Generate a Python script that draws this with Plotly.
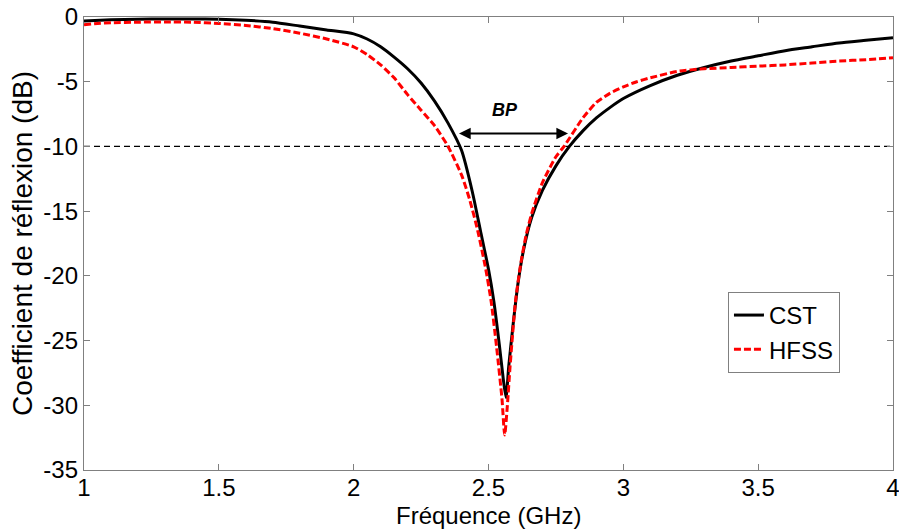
import plotly.graph_objects as go

cst_f = [1.0, 1.1, 1.2, 1.3, 1.4, 1.5, 1.6, 1.7, 1.8, 1.9, 2.0, 2.05, 2.1, 2.15, 2.2, 2.25, 2.3, 2.35,
         2.4, 2.44, 2.47, 2.5, 2.52, 2.54, 2.555, 2.565, 2.575, 2.59, 2.61, 2.63, 2.66, 2.7, 2.75,
         2.8, 2.85, 2.9, 2.95, 3.0, 3.1, 3.2, 3.3, 3.4, 3.5, 3.6, 3.7, 3.8, 3.9, 4.0]
cst_db = [-0.3, -0.22, -0.18, -0.15, -0.15, -0.17, -0.25, -0.4, -0.7, -1.0, -1.3, -1.7, -2.3, -3.1, -4.0,
          -5.1, -6.5, -8.2, -10.3, -13.5, -16.5, -19.5, -22.0, -25.3, -28.0, -29.4, -27.0, -24.0, -20.5,
          -18.0, -15.5, -13.4, -11.5, -10.0, -8.8, -7.8, -7.0, -6.3, -5.3, -4.5, -3.9, -3.4, -3.0, -2.6,
          -2.3, -2.0, -1.8, -1.6]

hfss_f = [1.0, 1.05, 1.1, 1.2, 1.3, 1.4, 1.5, 1.6, 1.7, 1.8, 1.9, 2.0, 2.05, 2.1, 2.15, 2.2, 2.25, 2.3,
          2.35, 2.4, 2.43, 2.46, 2.49, 2.51, 2.53, 2.55, 2.56, 2.57, 2.58, 2.6, 2.62, 2.64, 2.66, 2.7,
          2.75, 2.78, 2.85, 2.9, 2.95, 3.0, 3.05, 3.1, 3.2, 3.3, 3.4, 3.5, 3.6, 3.7, 3.8, 3.9, 4.0]
hfss_db = [-0.6, -0.5, -0.45, -0.4, -0.38, -0.4, -0.5, -0.65, -0.9, -1.25, -1.7, -2.3, -2.9, -3.7, -4.7,
           -6.0, -7.2, -8.4, -10.0, -12.2, -14.1, -16.5, -19.5, -22.0, -25.5, -29.5, -32.3, -30.0, -27.0,
           -22.0, -19.0, -16.8, -15.2, -12.8, -10.8, -10.0, -7.8, -6.6, -5.9, -5.4, -5.0, -4.7, -4.2, -4.0,
           -3.9, -3.8, -3.7, -3.55, -3.4, -3.3, -3.15]

x_ticks = [1, 1.5, 2, 2.5, 3, 3.5, 4]
y_ticks = [0, -5, -10, -15, -20, -25, -30, -35]
threshold = -10
bp_start, bp_end, bp_level = 2.385, 2.795, -9.0
bp_label_x, bp_label_y = 2.56, -7.2

font = "Liberation Sans, Arial, sans-serif"

fig = go.Figure()
fig.add_trace(go.Scatter(x=[1, 4], y=[threshold, threshold], mode="lines",
                         line=dict(color="black", width=1.3, dash="6px,4px"),
                         showlegend=False, hoverinfo="skip"))
fig.add_trace(go.Scatter(x=cst_f, y=cst_db, mode="lines", name="CST",
                         line=dict(color="black", width=3, shape="spline", smoothing=0.6)))
fig.add_trace(go.Scatter(x=hfss_f, y=hfss_db, mode="lines", name="HFSS",
                         line=dict(color="#ff0000", width=3, dash="7px,3px", shape="spline",
                                   smoothing=0.6)))

fig.add_annotation(x=bp_end, y=bp_level, ax=bp_start, ay=bp_level, xref="x", yref="y",
                   axref="x", ayref="y", text="", showarrow=True, arrowhead=2,
                   arrowside="end+start", arrowsize=1.3, arrowwidth=1.8, arrowcolor="black")
fig.add_annotation(x=bp_label_x, y=bp_label_y, xref="x", yref="y",
                   text="<b><i>BP</i></b>", showarrow=False,
                   font=dict(family=font, size=18, color="black"))

# x-axis title placed at the bottom edge of the figure
fig.add_annotation(x=0.5, y=0, xref="paper", yref="paper", yshift=-61, yanchor="bottom",
                   text="Fréquence (GHz)", showarrow=False,
                   font=dict(family=font, size=24, color="black"))

axis_common = dict(showline=True, linecolor="#808080", linewidth=1.3, mirror="ticks",
                   ticks="inside", ticklen=6, tickcolor="#808080", showgrid=False,
                   zeroline=False, automargin=False,
                   tickfont=dict(family=font, size=24, color="black"))

fig.update_xaxes(range=[1, 4], tickvals=x_ticks, ticktext=[str(v) for v in x_ticks],
                 ticklabeloverflow="allow", ticklabelstandoff=-4, **axis_common)
fig.update_yaxes(range=[-35, 0], tickvals=y_ticks, ticktext=[str(v) for v in y_ticks],
                 title=dict(text="Coefficient de réflexion (dB)",
                            font=dict(family=font, size=28, color="black"), standoff=2),
                 **axis_common)

fig.update_layout(width=899, height=530, margin=dict(l=84, r=6, t=17, b=60),
                  plot_bgcolor="white", paper_bgcolor="white",
                  legend=dict(x=0.796, y=0.393, xanchor="left", yanchor="top",
                              bgcolor="white", bordercolor="#808080", borderwidth=1,
                              font=dict(family=font, size=24, color="black"),
                              tracegroupgap=0, itemwidth=30))
fig.write_html("out.html", config={"displayModeBar": False},
               post_script="document.body.style.margin='0';document.body.style.overflow='hidden';")
